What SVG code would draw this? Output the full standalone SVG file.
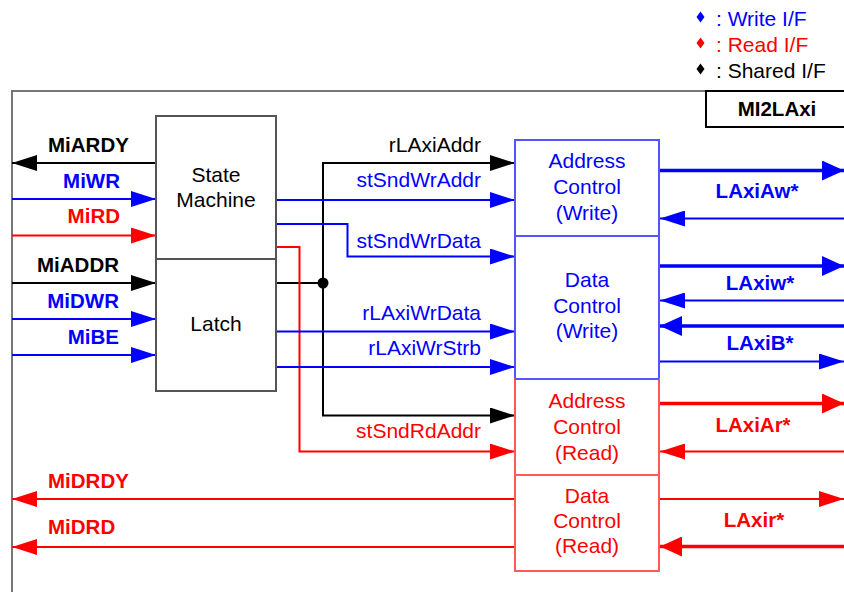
<svg xmlns="http://www.w3.org/2000/svg" width="844" height="592" viewBox="0 0 844 592">
<style>
text{font-family:"Liberation Sans",Arial,sans-serif;font-size:21px}
.b{font-weight:bold;font-size:20.5px}
.k{fill:#000}.bl{fill:#0000ff}.rd{fill:#ff0000}
.m{text-anchor:middle}.e{text-anchor:end}
.box{fill:#fff;stroke:#555;stroke-width:2}
.bbox{fill:#fff;stroke:#5555ff;stroke-width:2}
.rbox{fill:#fff;stroke:#ff5a5a;stroke-width:2}
.lk{fill:none;stroke:#000;stroke-width:2}
.lb{fill:none;stroke:#0000ff;stroke-width:2}
.lr{fill:none;stroke:#ff0000;stroke-width:2}
.lbT{fill:none;stroke:#0000ff;stroke-width:3.5}
.lrT{fill:none;stroke:#ff0000;stroke-width:3.5}
</style>
<defs>
<marker id="ak" viewBox="0 0 25 16" refX="25" refY="8" markerWidth="25" markerHeight="16" markerUnits="userSpaceOnUse" orient="auto"><path d="M0,0 L25,8 L0,16 z" fill="#000"/></marker>
<marker id="ab" viewBox="0 0 25 16" refX="25" refY="8" markerWidth="25" markerHeight="16" markerUnits="userSpaceOnUse" orient="auto"><path d="M0,0 L25,8 L0,16 z" fill="#0000ff"/></marker>
<marker id="ar" viewBox="0 0 25 16" refX="25" refY="8" markerWidth="25" markerHeight="16" markerUnits="userSpaceOnUse" orient="auto"><path d="M0,0 L25,8 L0,16 z" fill="#ff0000"/></marker>
<marker id="abT" viewBox="0 0 22 20" refX="22" refY="10" markerWidth="22" markerHeight="20" markerUnits="userSpaceOnUse" orient="auto"><path d="M0,0 L22,10 L0,20 z" fill="#0000ff"/></marker>
<marker id="arT" viewBox="0 0 22 20" refX="22" refY="10" markerWidth="22" markerHeight="20" markerUnits="userSpaceOnUse" orient="auto"><path d="M0,0 L22,10 L0,20 z" fill="#ff0000"/></marker>
</defs>
<rect width="844" height="592" fill="#fff"/>

<g id="legend">
<path d="M700.5,11.5 L704.5,17 L700.5,22.5 L696.5,17 z" fill="#0000ff"/>
<text x="716" y="26" class="bl">: Write I/F</text>
<path d="M700.5,37.5 L704.5,43 L700.5,48.5 L696.5,43 z" fill="#ff0000"/>
<text x="716" y="52" class="rd">: Read I/F</text>
<path d="M700.5,63.5 L704.5,69 L700.5,74.5 L696.5,69 z" fill="#000"/>
<text x="716" y="78" class="k">: Shared I/F</text>
</g>

<g id="frame">
<path d="M12,592 V91 H844" fill="none" stroke="#777" stroke-width="2"/>
</g>

<g id="mi2laxi">
<rect x="706" y="91" width="139" height="36" fill="#fff" stroke="#000" stroke-width="2"/>
<text x="777" y="116" class="b k m">MI2LAxi</text>
</g>

<g id="connectors">
<line x1="156" y1="163" x2="12" y2="163" class="lk" marker-end="url(#ak)"/>
<line x1="12" y1="199" x2="156" y2="199" class="lb" marker-end="url(#ab)"/>
<line x1="12" y1="235.5" x2="156" y2="235.5" class="lr" marker-end="url(#ar)"/>
<line x1="12" y1="283" x2="156" y2="283" class="lk" marker-end="url(#ak)"/>
<line x1="12" y1="319" x2="156" y2="319" class="lb" marker-end="url(#ab)"/>
<line x1="12" y1="355" x2="156" y2="355" class="lb" marker-end="url(#ab)"/>
<line x1="515" y1="499" x2="12" y2="499" class="lr" marker-end="url(#ar)"/>
<line x1="515" y1="547" x2="12" y2="547" class="lr" marker-end="url(#ar)"/>
<path d="M276,283 H323" class="lk"/>
<path d="M323,283 V163 H515" class="lk" marker-end="url(#ak)"/>
<path d="M323,283 V415.5 H515" class="lk" marker-end="url(#ak)"/>
<circle cx="323" cy="283" r="5.5" fill="#000"/>
<line x1="276" y1="200" x2="515" y2="200" class="lb" marker-end="url(#ab)"/>
<path d="M276,224 H347.5 V256.5 H515" class="lb" marker-end="url(#ab)"/>
<path d="M276,247 H299.5 V451.5 H515" class="lr" marker-end="url(#ar)"/>
<line x1="276" y1="331.5" x2="515" y2="331.5" class="lb" marker-end="url(#ab)"/>
<line x1="276" y1="367" x2="515" y2="367" class="lb" marker-end="url(#ab)"/>
<line x1="659" y1="170.5" x2="844" y2="170.5" class="lbT" marker-end="url(#abT)"/>
<line x1="844" y1="218.5" x2="660" y2="218.5" class="lb" marker-end="url(#ab)"/>
<line x1="659" y1="266" x2="844" y2="266" class="lbT" marker-end="url(#abT)"/>
<line x1="844" y1="300.5" x2="660" y2="300.5" class="lb" marker-end="url(#ab)"/>
<line x1="844" y1="326" x2="660" y2="326" class="lbT" marker-end="url(#abT)"/>
<line x1="659" y1="361.5" x2="844" y2="361.5" class="lb" marker-end="url(#ab)"/>
<line x1="659" y1="403.5" x2="844" y2="403.5" class="lrT" marker-end="url(#arT)"/>
<line x1="844" y1="451.5" x2="660" y2="451.5" class="lr" marker-end="url(#ar)"/>
<line x1="659" y1="499" x2="844" y2="499" class="lr" marker-end="url(#ar)"/>
<line x1="844" y1="546.5" x2="660" y2="546.5" class="lrT" marker-end="url(#arT)"/>
</g>

<g id="labels">
<text x="48" y="152" class="b k">MiARDY</text>
<text x="120" y="188" class="b bl e">MiWR</text>
<text x="120" y="223" class="b rd e">MiRD</text>
<text x="119" y="272" class="b k e">MiADDR</text>
<text x="119" y="308" class="b bl e">MiDWR</text>
<text x="119" y="344" class="b bl e">MiBE</text>
<text x="48" y="488" class="b rd">MiDRDY</text>
<text x="48" y="534" class="b rd">MiDRD</text>
<text x="481" y="152" class="k e">rLAxiAddr</text>
<text x="481" y="187" class="bl e">stSndWrAddr</text>
<text x="481" y="248" class="bl e">stSndWrData</text>
<text x="481" y="320" class="bl e">rLAxiWrData</text>
<text x="481" y="355" class="bl e">rLAxiWrStrb</text>
<text x="481" y="438" class="rd e">stSndRdAddr</text>
<text x="757" y="198" class="b bl m">LAxiAw*</text>
<text x="760" y="290" class="b bl m">LAxiw*</text>
<text x="760" y="350" class="b bl m">LAxiB*</text>
<text x="753" y="432" class="b rd m">LAxiAr*</text>
<text x="754" y="527" class="b rd m">LAxir*</text>
</g>

<g id="state-machine">
<rect x="156" y="116" width="120" height="143" class="box"/>
<text x="216" y="182" class="k m">State</text>
<text x="216" y="207" class="k m">Machine</text>
</g>
<g id="latch">
<rect x="156" y="259" width="120" height="132" class="box"/>
<text x="216" y="331" class="k m">Latch</text>
</g>
<g id="addr-ctrl-write">
<rect x="515" y="140" width="144" height="96" class="bbox"/>
<text x="587" y="168" class="bl m">Address</text>
<text x="587" y="194" class="bl m">Control</text>
<text x="587" y="220" class="bl m">(Write)</text>
</g>
<g id="data-ctrl-write">
<rect x="515" y="236" width="144" height="143" class="bbox"/>
<text x="587" y="287" class="bl m">Data</text>
<text x="587" y="313" class="bl m">Control</text>
<text x="587" y="338" class="bl m">(Write)</text>
</g>
<g id="addr-ctrl-read">
<rect x="515" y="379" width="144" height="96" class="rbox"/>
<path d="M515,379 H659" stroke="#5555ff" stroke-width="2"/>
<text x="587" y="408" class="rd m">Address</text>
<text x="587" y="434" class="rd m">Control</text>
<text x="587" y="460" class="rd m">(Read)</text>
</g>
<g id="data-ctrl-read">
<rect x="515" y="475" width="144" height="96" class="rbox"/>
<text x="587" y="503" class="rd m">Data</text>
<text x="587" y="528" class="rd m">Control</text>
<text x="587" y="553" class="rd m">(Read)</text>
</g>
</svg>
